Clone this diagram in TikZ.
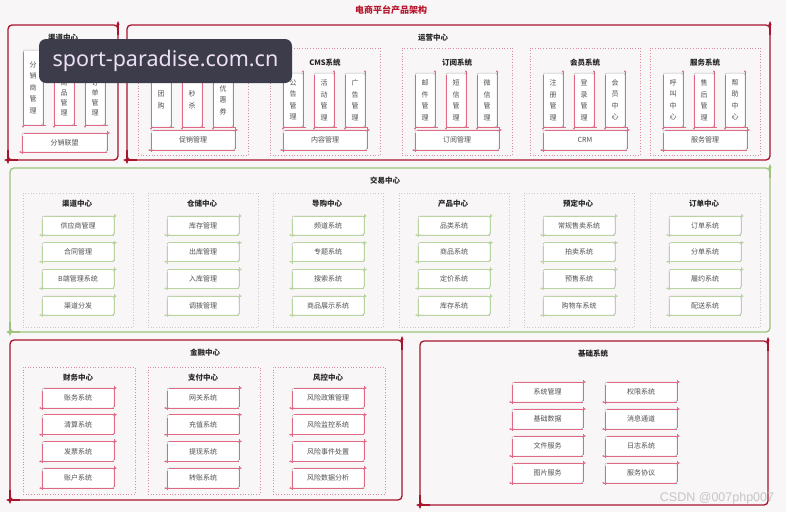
\documentclass[tikz,border=0pt]{standalone}
\usepackage{fontspec}
\setmainfont{Noto Sans CJK SC}
\newfontfamily\wmfont{Noto Sans}
\newfontfamily\csdnfont{Liberation Sans}
\usetikzlibrary{arrows.meta}
\definecolor{cBg}{HTML}{F8F6F6}
\definecolor{cRed}{HTML}{A8142C}
\definecolor{cTitle}{HTML}{B8162E}
\definecolor{cGreen}{HTML}{9DC47C}
\definecolor{cPink}{HTML}{E06A86}
\definecolor{cLGreen}{HTML}{B9D49F}
\definecolor{cDotPink}{HTML}{D98C9C}
\definecolor{cDotGray}{HTML}{C9C9C9}
\definecolor{cBox}{HTML}{B4B4B4}
\definecolor{cText}{HTML}{505050}
\definecolor{cWm}{HTML}{3C3C4A}
\definecolor{cWmText}{HTML}{EDE0F6}
\definecolor{cCsdn}{HTML}{C6C6C6}
\tikzset{
 tip/.style={-{Stealth[length=2.5pt,width=2.2pt]}},
 btip/.style={-{Stealth[length=4pt,width=3.2pt]}},
 itembox/.style={draw=cBox, fill=white, rounded corners=2pt, line width=0.5pt, inner sep=0pt, outer sep=0pt, font=\fontsize{7}{8}\selectfont, text=cText},
 vitem/.style={itembox, align=center, font=\fontsize{7}{11.5}\selectfont},
 bigR/.style={draw=cRed, line width=1.3pt, rounded corners=4pt, inner sep=0pt, outer sep=0pt},
 bigG/.style={draw=cGreen, line width=1.3pt, rounded corners=4pt, inner sep=0pt, outer sep=0pt},
 subP/.style={draw=cDotPink, dotted, line width=0.7pt, inner sep=0pt, outer sep=0pt},
 subG/.style={draw=cDotGray, dotted, line width=0.7pt, inner sep=0pt, outer sep=0pt},
 ttl/.style={font=\bfseries\fontsize{7.5}{8}\selectfont, text=black!85, inner sep=0pt},
}
\newcommand\BOX[7]{%
 \pgfmathsetmacro\bw{(#5)-(#3)}\pgfmathsetmacro\bh{(#6)-(#4)}%
 \pgfmathsetmacro\bcx{((#3)+(#5))/2}\pgfmathsetmacro\bcy{((#4)+(#6))/2}%
 \node[#1, minimum width=\bw pt, minimum height=\bh pt] (#2) at (\bcx,\bcy) {#7};}
\newcommand\accH[2]{%
 \draw[#2, line width=0.6pt, tip] ([xshift=2pt]#1.north west) -- ([xshift=3pt]#1.north east);
 \draw[#2, line width=0.6pt] ([yshift=2pt]#1.north east) -- ([yshift=1pt]#1.south east);
 \draw[#2, line width=0.6pt, tip] (#1.south east) -- ([xshift=-3pt]#1.south west);
 \draw[#2, line width=0.6pt] ([yshift=-3pt]#1.north west) -- ([yshift=-2pt]#1.south west);}
\newcommand\accV[2]{%
 \draw[#2, line width=0.6pt, tip] ([yshift=-1pt]#1.south east) -- ([yshift=3pt]#1.north east);
 \draw[#2, line width=0.6pt, tip] ([yshift=-2pt]#1.north west) -- ([yshift=-3pt]#1.south west);
 \draw[#2, line width=0.6pt] (#1.south west) -- ([xshift=3pt]#1.south east);}
\newcommand\accB[3]{%
 \draw[#2, line width=#3, btip] ([yshift=-10pt]#1.north east) -- ([yshift=4pt]#1.north east);
 \draw[#2, line width=#3, btip] ([yshift=10pt]#1.south west) -- ([yshift=-4pt]#1.south west);
 \draw[#2, line width=#3, btip] ([xshift=10pt]#1.south west) -- ([xshift=-4pt]#1.south west);}
\begin{document}
\begin{tikzpicture}[x=1pt,y=-1pt]
\fill[cBg] (0,0) rectangle (786,512);
\useasboundingbox (0,0) rectangle (786,512);

\node[font=\bfseries\fontsize{9}{10}\selectfont, text=cTitle, inner sep=0pt] (title) at (391,10) {电商平台产品架构};

% ---------- top: 渠道中心 ----------
\BOX{bigR}{qd}{8}{25}{118}{160}{}
\accB{qd}{cRed}{1.3pt}
\node[ttl] (qdt) at (63,38) {渠道中心};
\BOX{vitem}{qd1}{23}{50}{43}{125}{分\\销\\商\\管\\理}
\BOX{vitem, font=\fontsize{7}{10}\selectfont}{qd2}{54}{50}{74}{125}{分\\销\\商\\品\\管\\理}
\BOX{vitem, font=\fontsize{7}{10}\selectfont}{qd3}{85}{50}{105}{125}{分\\销\\订\\单\\管\\理}
\BOX{itembox}{qd4}{22}{133}{107}{152}{分销联盟}
\accV{qd1}{cPink}\accV{qd2}{cPink}\accV{qd3}{cPink}\accH{qd4}{cPink}

% ---------- top: 运营中心 ----------
\BOX{bigR}{yy}{127}{25}{770}{160}{}
\accB{yy}{cRed}{1.3pt}
\node[ttl] (yyt) at (433,38) {运营中心};
\foreach \sx/\ti/\ca/\cb/\cc/\bt [count=\i] in {
 138/促销系统/团\\购/秒\\杀/优\\惠\\券/促销管理,
 270/CMS系统/公\\告\\管\\理/活\\动\\管\\理/广\\告\\管\\理/内容管理,
 402/订阅系统/邮\\件\\管\\理/短\\信\\管\\理/微\\信\\管\\理/订阅管理,
 530/会员系统/注\\册\\管\\理/登\\录\\管\\理/会\\员\\中\\心/CRM,
 650/服务系统/呼\\叫\\中\\心/售\\后\\管\\理/帮\\助\\中\\心/服务管理}{
 \BOX{subP}{ys\i}{\sx}{48}{\sx+110}{155}{}
 \node[ttl] (yst\i) at (\sx+55,63) {\ti};
 \BOX{vitem}{yc\i-1}{\sx+13}{73}{\sx+33}{127}{\ca}
 \BOX{vitem}{yc\i-2}{\sx+44}{73}{\sx+64}{127}{\cb}
 \BOX{vitem}{yc\i-3}{\sx+75}{73}{\sx+95}{127}{\cc}
 \BOX{itembox}{yb\i}{\sx+13}{130}{\sx+97}{150}{\bt}
 \accV{yc\i-1}{cPink}\accV{yc\i-2}{cPink}\accV{yc\i-3}{cPink}\accH{yb\i}{cPink}
}

% ---------- middle: 交易中心 ----------
\BOX{bigG}{jy}{10}{168}{770}{332}{}
\accB{jy}{cGreen}{1.3pt}
\node[ttl] (jyt) at (385,181) {交易中心};
\foreach \sx/\ti/\ia/\ib/\ic/\id [count=\i] in {
 23/渠道中心/供应商管理/合同管理/B端管理系统/渠道分发,
 148/仓储中心/库存管理/出库管理/入库管理/调拨管理,
 273/导购中心/频道系统/专题系统/搜索系统/商品展示系统,
 399/产品中心/品类系统/商品系统/定价系统/库存系统,
 524/预定中心/常规售卖系统/拍卖系统/预售系统/购物车系统,
 650/订单中心/订单系统/分单系统/履约系统/配送系统}{
 \BOX{subG}{ms\i}{\sx}{193}{\sx+110}{327}{}
 \node[ttl] (mt\i) at (\sx+54,204) {\ti};
 \foreach \it [count=\j] in {\ia,\ib,\ic,\id}{
  \BOX{itembox}{mi\i-\j}{\sx+19}{216+(\j-1)*26.7}{\sx+91}{235+(\j-1)*26.7}{\it}
  \accH{mi\i-\j}{cLGreen}
 }
}

% ---------- bottom-left: 金融中心 ----------
\BOX{bigR}{jr}{10}{340}{402}{500}{}
\accB{jr}{cRed}{1.3pt}
\node[ttl] (jrt) at (205,353) {金融中心};
\foreach \sx/\ti/\ia/\ib/\ic/\id [count=\i] in {
 23/财务中心/账务系统/清算系统/发票系统/账户系统,
 148/支付中心/网关系统/充值系统/提现系统/转账系统,
 273/风控中心/风险政策管理/风险监控系统/风险事件处置/风险数据分析}{
 \BOX{subP}{fs\i}{\sx}{367}{\sx+112}{494}{}
 \node[ttl] (ft\i) at (\sx+55,378) {\ti};
 \foreach \it [count=\j] in {\ia,\ib,\ic,\id}{
  \BOX{itembox}{fi\i-\j}{\sx+19}{388+(\j-1)*26.7}{\sx+91}{408+(\j-1)*26.7}{\it}
  \accH{fi\i-\j}{cPink}
 }
}

% ---------- bottom-right: 基础系统 ----------
\BOX{bigR}{jc}{420}{341}{768}{505}{}
\accB{jc}{cRed}{1.3pt}
\node[ttl] (jct) at (593,354) {基础系统};
\foreach \ia/\ib [count=\j] in {系统管理/权限系统, 基础数据/消息通道, 文件服务/日志系统, 图片服务/服务协议}{
 \BOX{itembox}{bl\j}{512}{382+(\j-1)*27}{583}{402+(\j-1)*27}{\ia}
 \BOX{itembox}{br\j}{605}{382+(\j-1)*27}{677}{402+(\j-1)*27}{\ib}
 \accH{bl\j}{cPink}\accH{br\j}{cPink}
}

% ---------- watermarks ----------
\node[fill=cWm, rounded corners=7pt, minimum width=253pt, minimum height=44pt, inner sep=0pt, text=cWmText, font=\wmfont\fontsize{21.5}{24}\selectfont] (wmk) at (165.5,61) {sport-paradise.com.cn};
\node[text=cCsdn, font=\csdnfont\fontsize{12.5}{13}\selectfont, inner sep=0pt] (csdn) at (717,498) {CSDN @007php007};
\end{tikzpicture}
\end{document}
